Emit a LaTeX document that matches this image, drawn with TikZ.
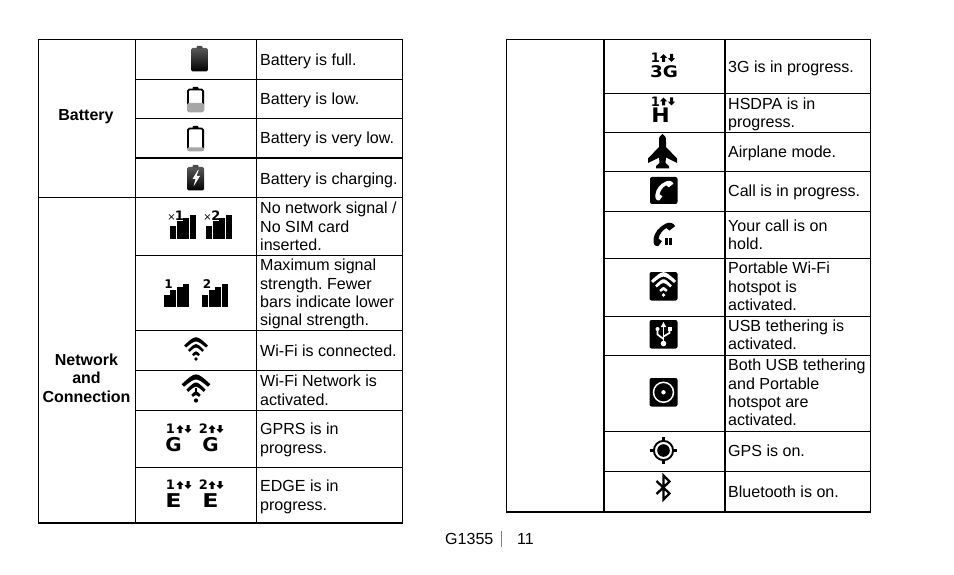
\documentclass[tikz,border=0pt]{standalone}
\usepackage{fontspec}
\setmainfont{Liberation Sans}
\newfontfamily\iconfont{DejaVu Sans}
\frenchspacing
\tikzset{
  celltxt/.style={anchor=north west, inner sep=0pt, yshift=12.9pt, align=left, execute at begin node=\strut, font=\fontsize{16.05}{18.3}\selectfont},
  headtxt/.style={inner sep=0pt, align=center, font=\fontsize{16}{18.6}\bfseries\selectfont},
  rule/.style={line width=1.1pt},
  rulethick/.style={line width=1.9pt},
  icontxt/.style={inner sep=0pt, font=\iconfont\bfseries\fontsize{#1}{#1}\selectfont},
  icontxt/.default=10,
  stretched/.style={xscale=#1, transform shape}
}
% battery, top left corner of the body at (#1,#2)
\newcommand{\battbody}[2]{
\draw[line width=1.8pt, rounded corners=1.5pt] (#1+0.9,#2+2.5) rectangle (#1+16.1,#2+24.2);
\fill[rounded corners=0.8pt] (#1+5.5,#2+3) rectangle (#1+11.5,#2);
}
\newcommand{\sigbars}[2]{
\fill (#1,#2) rectangle (#1+6,#2-12.5);
\fill (#1+6.5,#2) rectangle (#1+12.5,#2-17);
\fill (#1+13,#2) rectangle (#1+19,#2-20);
\fill (#1+19.7,#2) rectangle (#1+25.7,#2-23);
}
% wifi fan, dot at (#1,#2)
\newcommand{\wifiarcs}[4]{
\begin{scope}[shift={(#1,#2)}, scale=#3, #4]
\fill (-12,-13.5) .. controls (0,-24.5) .. (12,-13.5) -- (10,-11.5) .. controls (0,-19.5) .. (-10,-11.5) -- cycle;
\fill (-8,-9) .. controls (0,-17) .. (8,-9) -- (6.3,-7.2) .. controls (0,-13) .. (-6.3,-7.2) -- cycle;
\fill (-3.9,-4.7) .. controls (0,-8.7) .. (3.9,-4.7) -- (2.5,-3) .. controls (0,-5) .. (-2.5,-3) -- cycle;
\fill (0,0) circle[radius=1.8pt];
\end{scope}
}
% data arrows, up arrow centred at #1
\newcommand{\updown}[2]{
\fill (#1-3.5,#2+3.8) -- (#1,#2) -- (#1+3.5,#2+3.8) -- (#1+1.5,#2+3.8) -- (#1+1.5,#2+8) -- (#1-1.5,#2+8) -- (#1-1.5,#2+3.8) -- cycle;
\fill (#1+8-3.5,#2+4.2) -- (#1+8,#2+8) -- (#1+8+3.5,#2+4.2) -- (#1+8+1.5,#2+4.2) -- (#1+8+1.5,#2) -- (#1+8-1.5,#2) -- (#1+8-1.5,#2+4.2) -- cycle;
}
\newcommand{\handset}[3]{
\begin{scope}[shift={(#1,#2)}, #3]
\fill (2,-8.5) .. controls (5,-10) and (8,-9.5) .. (9.5,-6.5) -- (5,-3) -- (2.5,-5) .. controls (-1,-3) and (-3,0) .. (-3.8,3.5) -- (-1,5.5) -- (-4,9.5) .. controls (-7,9.5) and (-8,8) .. (-7.7,4) .. controls (-7,-2) and (-3,-6) .. (2,-8.5) -- cycle;
\end{scope}
}
\begin{document}
\begin{tikzpicture}[x=1pt, y=-1pt]
\useasboundingbox (0,0) rectangle (954,575);
% left table
\draw[rule] (38.5,39.5) rectangle (402.8,523);
\draw[rule] (135.5,39.5) -- (135.5,523);
\draw[rule] (256.5,39.5) -- (256.5,523);
\draw[rule] (38.5,197.5) -- (402.8,197.5);
\foreach \rowy in {79.5,118.5,255.5,330.5,370.5,410.5,467.5}
  \draw[rule] (135.5,\rowy) -- (402.8,\rowy);
\draw[rulethick] (135.5,158) -- (402.8,158);
\draw[rulethick] (38,523) -- (402.8,523);
% right table
\draw[rule] (506.5,39.5) rectangle (870.8,512);
\draw[rulethick] (604,39.5) -- (604,512);
\draw[rulethick] (725,39.5) -- (725,512);
\draw[rulethick] (506,39.5) -- (870.8,39.5);
\foreach \rowy in {93.5,132.5,171.5,211.5,258.5,316.5,355.5,431.5,471.5}
  \draw[rule] (604,\rowy) -- (870.8,\rowy);
\draw[rulethick] (506,512) -- (870.8,512);
% headers
\node[headtxt] (hBatt) at (86,117) {Battery};
\node[headtxt] (hNet) at (86.5,378) {Network\\and\\Connection};
% left texts
\node[celltxt] (L1) at (260,65) {Battery is full.};
\node[celltxt] (L2) at (260,104) {Battery is low.};
\node[celltxt] (L3) at (260,143) {Battery is very low.};
\node[celltxt] (L4) at (260,184) {Battery is charging.};
\node[celltxt] (L5) at (260,215) {No network signal /\\No SIM card\\inserted.};
\node[celltxt] (L6) at (260,272) {Maximum signal\\strength. Fewer\\bars indicate lower\\signal strength.};
\node[celltxt] (L7) at (260,356) {Wi-Fi is connected.};
\node[celltxt] (L8) at (260,388) {Wi-Fi Network is\\activated.};
\node[celltxt] (L9) at (260,436) {GPRS is in\\progress.};
\node[celltxt] (L10) at (260,493) {EDGE is in\\progress.};
% right texts
\node[celltxt] (R1) at (728,72) {3G is in progress.};
\node[celltxt] (R2) at (728,110.5) {HSDPA is in\\progress.};
\node[celltxt] (R3) at (728,157) {Airplane mode.};
\node[celltxt] (R4) at (728,196) {Call is in progress.};
\node[celltxt] (R5) at (728,232.5) {Your call is on\\hold.};
\node[celltxt] (R6) at (728,275) {Portable Wi-Fi\\hotspot is\\activated.};
\node[celltxt] (R7) at (728,332.5) {USB tethering is\\activated.};
\node[celltxt] (R8) at (728,372) {Both USB tethering\\and Portable\\hotspot are\\activated.};
\node[celltxt] (R9) at (728,456) {GPS is on.};
\node[celltxt] (R10) at (728,497) {Bluetooth is on.};
% footer
\node[celltxt] (pName) at (445,544) {G1355};
\node[celltxt] (pNum) at (517,544) {11};
\draw[line width=0.6pt, black!50] (501,531) -- (501,547);
% batteries
\shade[top color=black!65, bottom color=black, rounded corners=1.5pt] (191,48) rectangle (207.8,71.5);
\fill[black!70, rounded corners=0.8pt] (196.5,49) rectangle (202.5,46);
\battbody{187}{87}
\fill[black!35, rounded corners=1.5pt] (187,103) rectangle (204,112);
\battbody{187}{126}
\fill[black!35, rounded corners=1pt] (187,147.5) rectangle (204,151);
\shade[top color=black!65, bottom color=black, rounded corners=1.5pt] (187,167) rectangle (204,190.5);
\fill[black!70, rounded corners=0.8pt] (192.5,168) rectangle (198.5,165);
\fill[white] (198,170) -- (192.5,179) -- (195.5,179) -- (193.5,186.5) -- (200,176) -- (196.5,176) -- (198.7,170) -- cycle;
% signal bars
\sigbars{170}{238.5}
\sigbars{206}{238.5}
\sigbars{163.5}{307}
\sigbars{202}{307}
\node[icontxt=10, font=\iconfont\fontsize{10}{10}\selectfont] (sX1a) at (171.5,217.5) {×};
\node[icontxt=13] (sX1b) at (179.5,216) {1};
\node[icontxt=10, font=\iconfont\fontsize{10}{10}\selectfont] (sX2a) at (207.5,217.5) {×};
\node[icontxt=13] (sX2b) at (216,216) {2};
\node[icontxt=12] (s1) at (168.5,284) {1};
\node[icontxt=12] (s2) at (207,284.5) {2};
% wifi
\wifiarcs{196}{359}{1}{black}
\wifiarcs{196}{400.5}{1.2}{black}
\draw[line width=2.2pt] (196,388) -- (196,395);
% gprs and edge
\node[icontxt=13] (g1) at (170.5,429) {1};
\updown{180}{425}
\node[icontxt=13] (g2) at (203.5,429) {2};
\updown{212}{425}
\node[icontxt=19, stretched=1.05] (gG1) at (173.5,445) {G};
\node[icontxt=19, stretched=1.05] (gG2) at (210.5,445) {G};
\node[icontxt=13] (e1) at (170.5,485) {1};
\updown{180}{481}
\node[icontxt=13] (e2) at (203.5,485) {2};
\updown{212}{481}
\node[icontxt=19, stretched=1.25] (eE1) at (173.5,501) {E};
\node[icontxt=19, stretched=1.25] (eE2) at (210.5,501) {E};
% 3g and hsdpa
\node[icontxt=13] (t1) at (655.5,58) {1};
\updown{663.5}{54}
\node[icontxt=16, stretched=1.15] (tG) at (664,72) {3G};
\node[icontxt=13] (h1) at (655.5,101.5) {1};
\updown{663.5}{97.5}
\node[icontxt=20, stretched=1.1] (hH) at (660.5,115.5) {H};
% airplane
\fill (662.5,134) .. controls (659,137) .. (659,142) -- (659,147) -- (648,158.5) -- (648,163) -- (659,157.5) -- (659.5,163) -- (656,166) -- (656,168.5) -- (669,168.5) -- (669,166) -- (665.5,163) -- (666,157.5) -- (677,163) -- (677,158.5) -- (666,147) -- (666,142) .. controls (666,137) .. (662.5,134) -- cycle;
% call
\fill[rounded corners=2pt] (650,177) rectangle (677.5,204);
\handset{663.5}{190.5}{white, scale=1.05}
\handset{663.2}{234.3}{black, scale=1.25}
\fill (665,238) rectangle (667.5,245);
\fill (669,238) rectangle (671.5,245);
% portable wifi box
\fill[rounded corners=2pt] (649.5,272) rectangle (677.5,300.5);
\wifiarcs{663.5}{295}{1.05}{white}
% usb box
\fill[rounded corners=2pt] (649.5,320) rectangle (677.5,348.5);
\draw[white, line width=1.8pt] (663.5,325) -- (663.5,343);
\fill[white] (663.5,322) -- (660.8,327) -- (666.2,327) -- cycle;
\fill[white] (663.5,343.5) circle[radius=2.8pt];
\draw[white, line width=1.7pt] (663.5,339) -- (657.5,334.5) -- (657.5,330);
\draw[white, line width=1.7pt] (663.5,336.5) -- (669.5,333) -- (669.5,330);
\fill[white] (657.5,329) circle[radius=2pt];
\fill[white] (667.5,327.2) rectangle (671.5,331);
% tether box
\fill[rounded corners=2pt] (649.5,378) rectangle (677.5,406.5);
\draw[white, line width=1.5pt] (663.5,392.3) circle[radius=10pt];
\fill[white] (663.5,392.3) circle[radius=2.2pt];
% gps
\draw[line width=1.9pt] (663.5,450.5) circle[radius=9.6pt];
\fill (663.5,450.5) circle[radius=6.3pt];
\draw[line width=2.2pt] (663.5,437) -- (663.5,442) (663.5,459) -- (663.5,464) (650,450.5) -- (655,450.5) (672,450.5) -- (677,450.5);
% bluetooth
\draw[line width=2.3pt, line join=miter] (656.5,481) -- (669.5,493.5) -- (663.5,499.5) -- (663.5,475.5) -- (669.5,481.5) -- (656.5,494);
\end{tikzpicture}
\end{document}
